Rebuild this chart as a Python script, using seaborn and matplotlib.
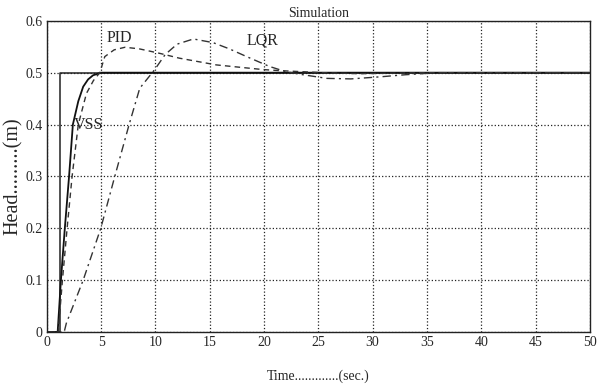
import pandas as pd
import matplotlib
matplotlib.use("Agg")
import matplotlib.pyplot as plt
import seaborn as sns

# step reference
step_t = [0, 1.2, 1.2, 50]
step_y = [0, 0, 0.5, 0.5]

# VSS response (solid)
vss_t = [0, 1.0, 1.3, 1.66, 2.05, 2.4, 2.9, 3.35, 3.8, 4.26, 5.0, 10, 20, 30, 40, 50]
vss_y = [0, 0, 0.1, 0.2, 0.3, 0.4, 0.445, 0.473, 0.487, 0.495, 0.5, 0.5, 0.5, 0.5, 0.5, 0.5]

# PID response (dashed)
pid_t = [0, 1.05, 1.44, 1.87, 2.33, 2.9, 3.65, 4.3, 4.88, 5.34, 6.2, 7.2, 8.5, 10.25,
         12.2, 15.6, 19.9, 21.4, 25.4, 28.8, 35, 50]
pid_y = [0, 0, 0.1, 0.2, 0.3, 0.4, 0.46, 0.485, 0.5, 0.531, 0.544, 0.549, 0.546, 0.538,
         0.528, 0.515, 0.506, 0.504, 0.5, 0.498, 0.5, 0.5]

# LQR response (dash-dot)
lqr_t = [0, 1.6, 1.8, 3.35, 4.97, 6.26, 7.58, 8.56, 9.94, 10.9, 12, 13.5, 15.3, 16.8,
         18.4, 20.5, 22, 23.6, 25.8, 28, 30.7, 33, 36, 50]
lqr_y = [0, 0, 0.017, 0.1, 0.2, 0.3, 0.4, 0.47, 0.506, 0.535, 0.555, 0.565, 0.558, 0.546,
         0.531, 0.512, 0.502, 0.496, 0.489, 0.488, 0.492, 0.496, 0.5, 0.5]

x_ticks = [0, 5, 10, 15, 20, 25, 30, 35, 40, 45, 50]
y_ticks = [0, 0.1, 0.2, 0.3, 0.4, 0.5, 0.6]
y_labels = ["0", "0.1", "0.2", "0.3", "0.4", "0.5", "0.6"]

sns.set_theme(style="white")
plt.rcParams['font.family'] = ['Liberation Serif', 'DejaVu Serif']

fig = plt.figure(figsize=(6, 3.89), dpi=100)
ax = fig.add_axes([0.078, 0.1465, 0.905, 0.80])

sns.lineplot(x=step_t, y=step_y, ax=ax, color='#222222', linewidth=1.1, sort=False,
             estimator=None)
sns.lineplot(x=vss_t, y=vss_y, ax=ax, color='#111111', linewidth=1.3, sort=False,
             estimator=None)
sns.lineplot(x=pid_t, y=pid_y, ax=ax, color='#333333', linewidth=1.0, sort=False,
             estimator=None, linestyle=(0, (4, 3)))
sns.lineplot(x=lqr_t, y=lqr_y, ax=ax, color='#333333', linewidth=1.0, sort=False,
             estimator=None, linestyle=(0, (6, 3, 1.5, 3)))

ax.set_xlim(0, 50)
ax.set_ylim(0, 0.6)
ax.set_xticks(x_ticks)
ax.set_xticklabels([str(v) for v in x_ticks], fontsize=10)
ax.set_yticks(y_ticks)
ax.set_yticklabels(y_labels, fontsize=10)
ax.tick_params(axis='both', length=0, pad=3)
ax.grid(True, color='#222222', linestyle=':', linewidth=0.9)

for side in ['top', 'right', 'bottom', 'left']:
    ax.spines[side].set_color('#222222')
    ax.spines[side].set_linewidth(1.0)

ax.text(5.5, 0.567, "PID", fontsize=11.5, va='center', ha='left')
ax.text(18.4, 0.563, "LQR", fontsize=11.5, va='center', ha='left')
ax.text(2.5, 0.40, "VSS", fontsize=11.5, va='center', ha='left')

ax.set_title("Simulation", fontsize=10, pad=3)
ax.set_xlabel("Time.............(sec.)", fontsize=10, labelpad=15)
ax.set_ylabel("Head.........(m)", fontsize=14.5, labelpad=2)

fig.savefig("out.png", dpi=100)
